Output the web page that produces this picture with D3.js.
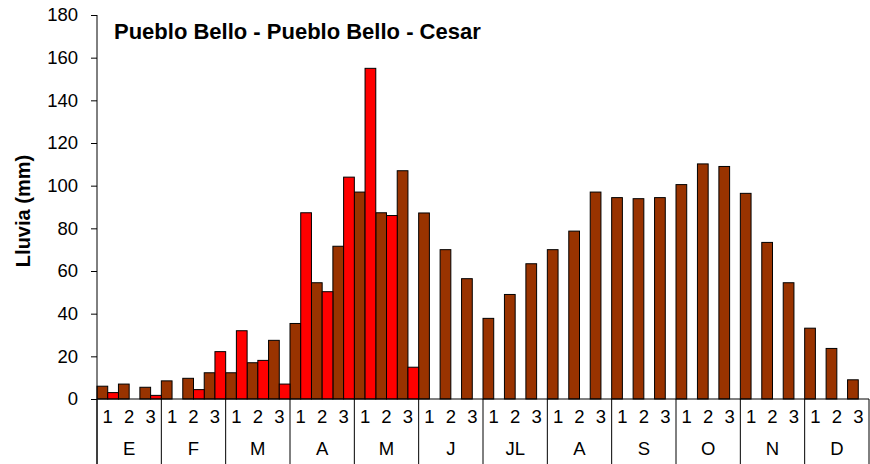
<!DOCTYPE html>
<html>
<head>
<meta charset="utf-8">
<script src="https://cdn.jsdelivr.net/npm/d3@7"></script>
<style>
  body { margin: 0; background: #fff; }
  svg { font-family: "Liberation Sans", Arial, sans-serif; }
</style>
</head>
<body>
<svg id="chart"></svg>
<script>
// monthly labels and dekads
const months = ["E", "F", "M", "A", "M", "J", "JL", "A", "S", "O", "N", "D"];
const dekads = ["1", "2", "3"];

// long-term mean per dekad (brown)
const promedio = [6, 7, 5.5, 8.5, 9.7, 12.3, 12.3, 17, 27.5, 35.4, 54.5, 71.6,
  97, 87.3, 107, 87.2, 70, 56.4, 37.8, 49, 63.4, 70, 78.7, 97,
  94.4, 93.9, 94.4, 100.5, 110.2, 109, 96.4, 73.4, 54.5, 33.2, 23.7, 9];

// current year per dekad (red), only up to mid May
const actual = [3, 0, 1.7, 0, 4.4, 22.2, 32, 18.1, 7, 87.3, 50.3, 104, 155, 86, 14.9];

const yTicks = [0, 20, 40, 60, 80, 100, 120, 140, 160, 180];

const width = 870, height = 464;
const margin = { top: 15, right: 1, bottom: 65, left: 97 };
const innerW = width - margin.left - margin.right;
const innerH = height - margin.top - margin.bottom;

const svg = d3.select("#chart")
  .attr("width", width)
  .attr("height", height);

const g = svg.append("g")
  .attr("transform", `translate(${margin.left}, ${margin.top})`);

const ids = d3.range(promedio.length);

const x = d3.scaleBand()
  .domain(ids)
  .range([0, innerW])
  .padding(0);

const sub = d3.scaleBand()
  .domain(["promedio", "actual"])
  .range([0, x.bandwidth()])
  .padding(0);

const y = d3.scaleLinear()
  .domain([0, 180])
  .range([innerH, 0]);

// brown bars
g.selectAll(".prom")
  .data(promedio)
  .enter()
  .append("rect")
  .attr("class", "prom")
  .attr("x", (d, i) => x(i) + sub("promedio"))
  .attr("width", sub.bandwidth())
  .attr("y", d => y(d))
  .attr("height", d => innerH - y(d))
  .attr("fill", "#993300")
  .attr("stroke", "#000")
  .attr("stroke-width", 1);

// red bars
g.selectAll(".act")
  .data(actual)
  .enter()
  .append("rect")
  .attr("class", "act")
  .attr("x", (d, i) => x(i) + sub("actual"))
  .attr("width", sub.bandwidth())
  .attr("y", d => y(d))
  .attr("height", d => innerH - y(d))
  .attr("fill", "#FF0000")
  .attr("stroke", "#000")
  .attr("stroke-width", 1)
  .style("display", d => d > 0 ? null : "none");

// y axis
const yAxis = g.append("g")
  .call(d3.axisLeft(y).tickValues(yTicks).tickSize(6).tickPadding(13));
yAxis.select(".domain").remove();
yAxis.selectAll("line").attr("stroke", "#000");
yAxis.selectAll("text")
  .attr("font-size", 18.5)
  .attr("font-family", "Liberation Sans, Arial, sans-serif")
  .attr("fill", "#000");

// y axis line, running down through the label rows
g.append("line")
  .attr("x1", 0).attr("x2", 0)
  .attr("y1", 0).attr("y2", innerH + 65)
  .attr("stroke", "#000");

// x axis baseline
g.append("line")
  .attr("x1", 0).attr("x2", innerW)
  .attr("y1", innerH).attr("y2", innerH)
  .attr("stroke", "#000");

// dekad labels
g.selectAll(".dek")
  .data(ids)
  .enter()
  .append("text")
  .attr("class", "dek")
  .attr("x", i => x(i) + x.bandwidth() / 2)
  .attr("y", innerH + 24)
  .attr("text-anchor", "middle")
  .attr("font-size", 18.5)
  .text(i => dekads[i % 3]);

// month separators and labels
const monthW = x.bandwidth() * 3;
g.selectAll(".sep")
  .data(d3.range(months.length + 1))
  .enter()
  .append("line")
  .attr("x1", i => i * monthW)
  .attr("x2", i => i * monthW)
  .attr("y1", innerH)
  .attr("y2", innerH + 65)
  .attr("stroke", "#000");

g.selectAll(".mes")
  .data(months)
  .enter()
  .append("text")
  .attr("class", "mes")
  .attr("x", (d, i) => i * monthW + monthW / 2)
  .attr("y", innerH + 56)
  .attr("text-anchor", "middle")
  .attr("font-size", 18.5)
  .text(d => d);

// y label
svg.append("text")
  .attr("transform", "translate(30, 211) rotate(-90)")
  .attr("text-anchor", "middle")
  .attr("font-size", 20)
  .attr("font-weight", "bold")
  .text("Lluvia (mm)");

// title
svg.append("text")
  .attr("x", 114)
  .attr("y", 39)
  .attr("font-size", 22)
  .attr("font-weight", "bold")
  .text("Pueblo Bello - Pueblo Bello - Cesar");
</script>
</body>
</html>
